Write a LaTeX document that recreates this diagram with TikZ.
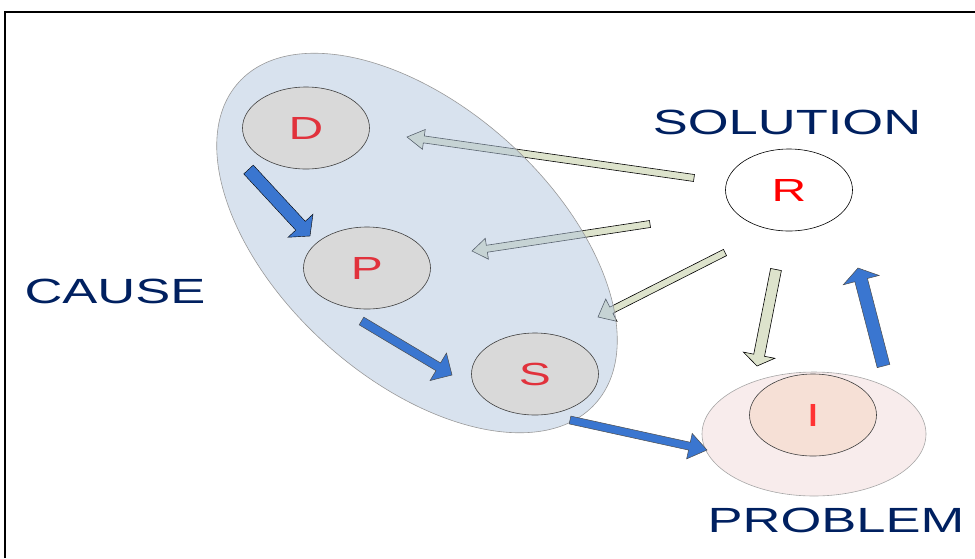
\documentclass[tikz,border=0pt]{standalone}
\usepackage{fontspec}
\setmainfont{Liberation Sans}
\usepackage{graphicx}
\usetikzlibrary{shapes.geometric,calc,backgrounds}

\definecolor{navy}{RGB}{0,32,96}
\definecolor{arrowblue}{RGB}{58,118,208}
\definecolor{arrowgray}{RGB}{221,227,204}
\definecolor{causeblue}{RGB}{177,197,221}
\definecolor{bubblegray}{RGB}{217,217,217}
\definecolor{letterred}{RGB}{225,50,60}
\definecolor{problempink}{RGB}{248,236,236}
\definecolor{issuepeach}{RGB}{246,224,214}

% stretched text, as in the slide
\newcommand{\xwide}[1]{\scalebox{1.5}[1]{#1}}
% block arrow: style, tail, tip, half shaft, half head, head length
\newcommand{\blockarrow}[6]{%
  \path #2 coordinate (tl) #3 coordinate (tp);
  \path ($(tp)!#6!(tl)$) coordinate (hb);
  \draw[#1] ($(tl)!#4!90:(tp)$) -- ($(hb)!#4!90:(tp)$) -- ($(hb)!#5!90:(tp)$)
    -- (tp) -- ($(hb)!#5!-90:(tp)$) -- ($(hb)!#4!-90:(tp)$) -- ($(tl)!#4!-90:(tp)$) -- cycle;
}

\begin{document}
\begin{tikzpicture}[x=1pt, y=-1pt, line join=miter,
    bubble/.style={ellipse, draw=black!75, line width=0.6pt, inner sep=0pt,
      minimum width=127pt, minimum height=82pt, font=\fontsize{32}{36}\selectfont},
    lbl/.style={text=navy, inner sep=0pt, font=\fontsize{35}{40}\selectfont},
    grayarrow/.style={draw=black, line width=0.6pt, fill=arrowgray},
    bluearrow/.style={draw=black!70, line width=0.5pt, fill=arrowblue}]
    \useasboundingbox (0,0) rectangle (975,558);

    % Frame
    \draw[line width=2pt] (5,558) -- (5,12) -- (975,12);

    % Cause group
    \node[bubble, fill=bubblegray, text=letterred] (D) at (306,128) {\xwide{D}};
    \node[bubble, fill=bubblegray, text=letterred] (P) at (367,268) {\xwide{P}};
    \node[bubble, fill=bubblegray, text=letterred] (S) at (535,374) {\xwide{S}};

    % Solution
    \node[bubble, fill=white, draw=black, text=red] (R) at (789,190) {\xwide{R}};

    % Problem
    \node[ellipse, draw=black!35, line width=0.6pt, fill=problempink,
      minimum width=224pt, minimum height=124pt, inner sep=0pt] (problem) at (814,434) {};
    \node[bubble, fill=issuepeach, text=red!80!white] (I) at (813,415) {\xwide{I}};

    % Labels
    \node[lbl] (solution) at (787,122) {\xwide{SOLUTION}};
    \node[lbl] (cause) at (115,291) {\xwide{CAUSE}};
    \node[lbl] (problemlbl) at (836,520) {\xwide{PROBLEM}};

    % Solution arrows, under the cause group
    \begin{scope}[on background layer]
        \blockarrow{grayarrow}{($(R)+(-95,-12)$)}{($(D)+(101,9)$)}{3.5pt}{10pt}{17pt}
        \blockarrow{grayarrow}{($(R)+(-139,34)$)}{($(P)+(105,-17)$)}{3.5pt}{10.5pt}{15pt}
        \blockarrow{grayarrow}{($(R)+(-64,62.5)$)}{($(S)+(63,-57)$)}{3.5pt}{12.5pt}{15pt}
        \node[ellipse, draw=black!40, line width=0.6pt, fill=causeblue, fill opacity=0.5,
          minimum width=480pt, minimum height=272pt, inner sep=0pt, rotate=-42] (causes) at (417,243) {};
    \end{scope}
    \blockarrow{grayarrow}{($(R)+(-13,79.5)$)}{($(I)+(-56,-49)$)}{5.5pt}{16pt}{11pt}

    % Chain of causes
    \blockarrow{fill=arrowblue}{($(D)+(-57.5,41.5)$)}{($(P)+(-57,-32)$)}{6.5pt}{17pt}{14pt}
    \blockarrow{bluearrow}{($(P)+(-5.5,53)$)}{($(S)+(-83,1)$)}{4.5pt}{16pt}{16pt}
    \blockarrow{bluearrow}{($(S)+(35,46)$)}{($(I)+(-106,35)$)}{4pt}{13pt}{18pt}
    \blockarrow{bluearrow}{($(I)+(70.5,-49)$)}{($(R)+(69,78)$)}{6.5pt}{18.5pt}{12.5pt}
\end{tikzpicture}
\end{document}
